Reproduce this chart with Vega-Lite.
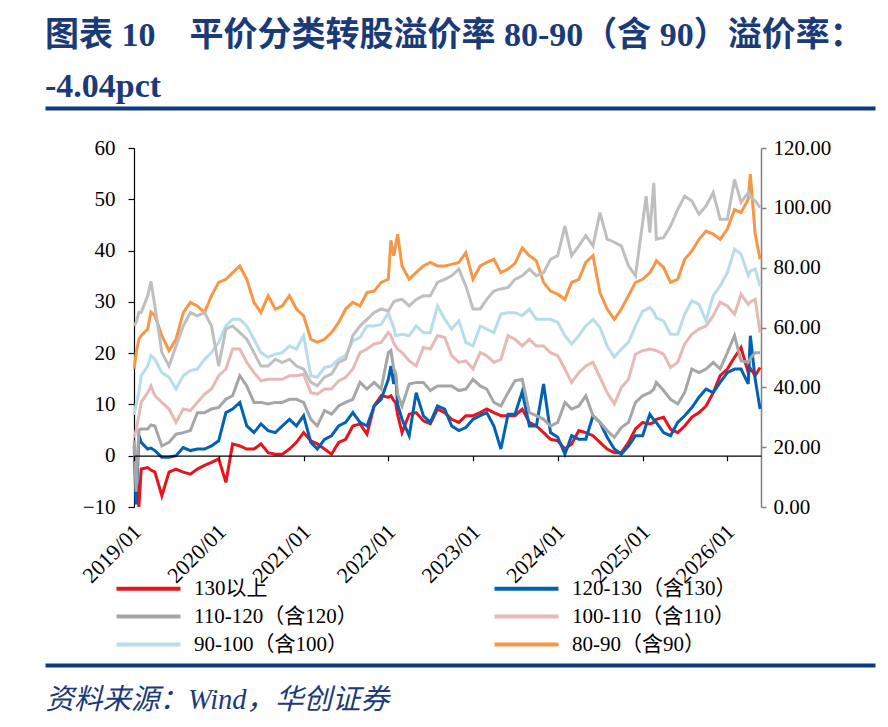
{
  "$schema": "https://vega.github.io/schema/vega-lite/v6.json",
  "background": "white",
  "padding": {"left": 42, "top": 19, "right": 0, "bottom": 0},
  "config": {
    "view": {"stroke": null},
    "font": "Liberation Serif, Noto Sans CJK SC",
    "axis": {"labelFont": "Liberation Serif, Noto Sans CJK SC", "titleFont": "Liberation Serif, Noto Sans CJK SC", "grid": false},
    "legend": {"labelFont": "Liberation Serif, Noto Sans CJK SC"}
  },
  "title": {
    "text": ["图表 10　平价分类转股溢价率 80-90（含 90）溢价率：", "-4.04pct"],
    "orient": "top",
    "anchor": "start",
    "frame": "group",
    "font": "Liberation Serif, Noto Sans CJK SC",
    "fontSize": 34,
    "fontWeight": "bold",
    "color": "#1b3a78",
    "lineHeight": 51,
    "offset": 2
  },
  "width": 830,
  "height": 561,
  "datasets": {
    "prem": [
      {"d":"2019-01-02","130以上":-1,"120-130（含130）":2,"110-120（含120）":3,"100-110（含110）":3.5,"90-100（含100）":8,"80-90（含90）":17,"r":60.5},
      {"d":"2019-01-10","130以上":-3,"120-130（含130）":-9.5,"110-120（含120）":-7,"100-110（含110）":5,"90-100（含100）":10,"80-90（含90）":20,"r":61.7},
      {"d":"2019-01-22","130以上":-10,"120-130（含130）":4,"110-120（含120）":5,"100-110（含110）":7.8,"90-100（含100）":12.3,"80-90（含90）":22.7,"r":65.0},
      {"d":"2019-02-01","130以上":-2.6,"120-130（含130）":2.6,"110-120（含120）":5.2,"100-110（含110）":10.4,"90-100（含100）":15.6,"80-90（含90）":23.4,"r":65.0},
      {"d":"2019-03-01","130以上":-2.3,"120-130（含130）":1.3,"110-120（含120）":5.2,"100-110（含110）":12.3,"90-100（含100）":17.5,"80-90（含90）":24.7,"r":70.6},
      {"d":"2019-03-15","130以上":-2.8,"120-130（含130）":1.5,"110-120（含120）":6,"100-110（含110）":13.6,"90-100（含100）":19.5,"80-90（含90）":28,"r":75.4},
      {"d":"2019-04-01","130以上":-3.2,"120-130（含130）":1,"110-120（含120）":5.8,"100-110（含110）":11.7,"90-100（含100）":18.8,"80-90（含90）":27.3,"r":67.2},
      {"d":"2019-05-01","130以上":-7.8,"120-130（含130）":-0.3,"110-120（含120）":1.9,"100-110（含110）":10.4,"90-100（含100）":16.2,"80-90（含90）":23.4,"r":51.6},
      {"d":"2019-06-01","130以上":-3.2,"120-130（含130）":-0.3,"110-120（含120）":2.6,"100-110（含110）":9.1,"90-100（含100）":15.3,"80-90（含90）":20.5,"r":47.1},
      {"d":"2019-07-01","130以上":-2.6,"120-130（含130）":0,"110-120（含120）":4.2,"100-110（含110）":6.5,"90-100（含100）":13,"80-90（含90）":22.7,"r":53.8},
      {"d":"2019-08-01","130以上":-3.2,"120-130（含130）":1.6,"110-120（含120）":4.5,"100-110（含110）":9.1,"90-100（含100）":15.6,"80-90（含90）":27.9,"r":60.5},
      {"d":"2019-09-01","130以上":-3.6,"120-130（含130）":1,"110-120（含120）":4.9,"100-110（含110）":8.8,"90-100（含100）":16.6,"80-90（含90）":29.9,"r":65.0},
      {"d":"2019-10-01","130以上":-2.6,"120-130（含130）":1.3,"110-120（含120）":8.4,"100-110（含110）":10.4,"90-100（含100）":16.9,"80-90（含90）":29.2,"r":63.9},
      {"d":"2019-11-01","130以上":-1.9,"120-130（含130）":1.3,"110-120（含120）":8.4,"100-110（含110）":12,"90-100（含100）":18.8,"80-90（含90）":27.9,"r":65.0},
      {"d":"2019-12-01","130以上":-1.3,"120-130（含130）":1.9,"110-120（含120）":9.1,"100-110（含110）":13,"90-100（含100）":20.1,"80-90（含90）":31.2,"r":60.5},
      {"d":"2020-01-01","130以上":-0.6,"120-130（含130）":2.9,"110-120（含120）":9.4,"100-110（含110）":15.6,"90-100（含100）":22.1,"80-90（含90）":33.8,"r":47.1},
      {"d":"2020-02-01","130以上":-5.2,"120-130（含130）":8.4,"110-120（含120）":11,"100-110（含110）":16.9,"90-100（含100）":25.3,"80-90（含90）":34.4,"r":59.5},
      {"d":"2020-03-01","130以上":2.3,"120-130（含130）":9.1,"110-120（含120）":11.7,"100-110（含110）":20.8,"90-100（含100）":26.6,"80-90（含90）":35.7,"r":60.5},
      {"d":"2020-04-01","130以上":1.9,"120-130（含130）":10.4,"110-120（含120）":15.6,"100-110（含110）":20.8,"90-100（含100）":26.6,"80-90（含90）":37,"r":58.3},
      {"d":"2020-05-01","130以上":1.3,"120-130（含130）":5.8,"110-120（含120）":13.6,"100-110（含110）":18.2,"90-100（含100）":25.3,"80-90（含90）":34.4,"r":56.1},
      {"d":"2020-06-01","130以上":1.3,"120-130（含130）":4.5,"110-120（含120）":10.4,"100-110（含110）":16.2,"90-100（含100）":22.7,"80-90（含90）":29.9,"r":51.6},
      {"d":"2020-07-01","130以上":2.3,"120-130（含130）":6.2,"110-120（含120）":10.4,"100-110（含110）":14.6,"90-100（含100）":20.1,"80-90（含90）":27.9,"r":47.1},
      {"d":"2020-08-01","130以上":0.6,"120-130（含130）":4.9,"110-120（含120）":10.1,"100-110（含110）":14.9,"90-100（含100）":19.2,"80-90（含90）":31.2,"r":47.1},
      {"d":"2020-09-01","130以上":0.3,"120-130（含130）":4.5,"110-120（含120）":10.4,"100-110（含110）":14.9,"90-100（含100）":19.8,"80-90（含90）":28.6,"r":49.4},
      {"d":"2020-10-01","130以上":0.3,"120-130（含130）":5.8,"110-120（含120）":10.4,"100-110（含110）":14.9,"90-100（含100）":20.1,"80-90（含90）":29.2,"r":48.3},
      {"d":"2020-11-01","130以上":1.3,"120-130（含130）":7.1,"110-120（含120）":11,"100-110（含110）":15.6,"90-100（含100）":21.4,"80-90（含90）":31.2,"r":49.4},
      {"d":"2020-12-01","130以上":2.6,"120-130（含130）":5.8,"110-120（含120）":11,"100-110（含110）":15.6,"90-100（含100）":20.8,"80-90（含90）":28.6,"r":47.1},
      {"d":"2021-01-01","130以上":4.5,"120-130（含130）":7.8,"110-120（含120）":10.4,"100-110（含110）":15.9,"90-100（含100）":23.4,"80-90（含90）":27.3,"r":46.1},
      {"d":"2021-02-01","130以上":2.9,"120-130（含130）":2.6,"110-120（含120）":7.1,"100-110（含110）":12.3,"90-100（含100）":15.6,"80-90（含90）":22.7,"r":41.7},
      {"d":"2021-03-01","130以上":2.3,"120-130（含130）":1.3,"110-120（含120）":5.8,"100-110（含110）":12,"90-100（含100）":15.3,"80-90（含90）":22.1,"r":40.5},
      {"d":"2021-04-01","130以上":1.3,"120-130（含130）":3.2,"110-120（含120）":8.8,"100-110（含110）":13,"90-100（含100）":17.2,"80-90（含90）":22.7,"r":43.4},
      {"d":"2021-05-01","130以上":0.3,"120-130（含130）":3.9,"110-120（含120）":8.1,"100-110（含110）":13,"90-100（含100）":17.5,"80-90（含90）":24,"r":44.4},
      {"d":"2021-06-01","130以上":2.6,"120-130（含130）":5.8,"110-120（含120）":9.7,"100-110（含110）":14.6,"90-100（含100）":18.8,"80-90（含90）":26,"r":48.3},
      {"d":"2021-07-01","130以上":3.2,"120-130（含130）":6.5,"110-120（含120）":10.4,"100-110（含110）":15.3,"90-100（含100）":19.5,"80-90（含90）":28.6,"r":49.4},
      {"d":"2021-08-01","130以上":5.8,"120-130（含130）":8.4,"110-120（含120）":11,"100-110（含110）":16.9,"90-100（含100）":22.4,"80-90（含90）":29.9,"r":57.3},
      {"d":"2021-09-01","130以上":6.2,"120-130（含130）":6.5,"110-120（含120）":14.3,"100-110（含110）":20.1,"90-100（含100）":23.1,"80-90（含90）":29.2,"r":60.5},
      {"d":"2021-10-01","130以上":4.2,"120-130（含130）":5.8,"110-120（含120）":13,"100-110（含110）":20.8,"90-100（含100）":25.3,"80-90（含90）":31.8,"r":62.7},
      {"d":"2021-11-01","130以上":9.7,"120-130（含130）":9.7,"110-120（含120）":14.3,"100-110（含110）":21.8,"90-100（含100）":25.3,"80-90（含90）":32.1,"r":65.0},
      {"d":"2021-12-01","130以上":11.7,"120-130（含130）":11,"110-120（含120）":13,"100-110（含110）":22.1,"90-100（含100）":25.6,"80-90（含90）":33.8,"r":66.2},
      {"d":"2022-01-01","130以上":11.4,"120-130（含130）":14.9,"110-120（含120）":20.1,"100-110（含110）":24,"90-100（含100）":27.9,"80-90（含90）":34.4,"r":65.5},
      {"d":"2022-01-12","130以上":11.7,"120-130（含130）":17.5,"110-120（含120）":20.5,"100-110（含110）":23.5,"90-100（含100）":26.5,"80-90（含90）":42,"r":66.9},
      {"d":"2022-01-24","130以上":10.8,"120-130（含130）":14,"110-120（含120）":17,"100-110（含110）":22,"90-100（含100）":25,"80-90（含90）":39,"r":68.6},
      {"d":"2022-02-01","130以上":10.4,"120-130（含130）":16.2,"110-120（含120）":16.2,"100-110（含110）":21.4,"90-100（含100）":23.4,"80-90（含90）":40.9,"r":68.9},
      {"d":"2022-02-10","130以上":8,"120-130（含130）":10,"110-120（含120）":12,"100-110（含110）":20.8,"90-100（含100）":23.5,"80-90（含90）":43.2,"r":69.1},
      {"d":"2022-03-01","130以上":4.5,"120-130（含130）":7.1,"110-120（含120）":9.7,"100-110（含110）":20.1,"90-100（含100）":23.7,"80-90（含90）":37,"r":69.4},
      {"d":"2022-04-01","130以上":8.1,"120-130（含130）":3.9,"110-120（含120）":14,"100-110（含110）":18.5,"90-100（含100）":23.4,"80-90（含90）":34.4,"r":67.2},
      {"d":"2022-05-01","130以上":8.4,"120-130（含130）":12.3,"110-120（含120）":14.3,"100-110（含110）":17.5,"90-100（含100）":25.3,"80-90（含90）":35.7,"r":69.4},
      {"d":"2022-06-01","130以上":6.8,"120-130（含130）":7.8,"110-120（含120）":14.3,"100-110（含110）":21.1,"90-100（含100）":24,"80-90（含90）":37,"r":70.6},
      {"d":"2022-07-01","130以上":6.2,"120-130（含130）":6.5,"110-120（含120）":12.7,"100-110（含110）":20.8,"90-100（含100）":24,"80-90（含90）":37.7,"r":70.6},
      {"d":"2022-08-01","130以上":9.1,"120-130（含130）":9.7,"110-120（含120）":13.6,"100-110（含110）":23.4,"90-100（含100）":29.2,"80-90（含90）":37,"r":75.1},
      {"d":"2022-09-01","130以上":8.4,"120-130（含130）":9.1,"110-120（含120）":13.6,"100-110（含110）":23.1,"90-100（含100）":26.6,"80-90（含90）":37,"r":76.1},
      {"d":"2022-10-01","130以上":7.1,"120-130（含130）":5.8,"110-120（含120）":13.6,"100-110（含110）":19.5,"90-100（含100）":24.7,"80-90（含90）":37.3,"r":77.3},
      {"d":"2022-11-01","130以上":6.5,"120-130（含130）":4.9,"110-120（含120）":12.7,"100-110（含110）":18.2,"90-100（含100）":26.3,"80-90（含90）":37.7,"r":79.5},
      {"d":"2022-12-01","130以上":7.8,"120-130（含130）":5.5,"110-120（含120）":13,"100-110（含110）":18.5,"90-100（含100）":22.1,"80-90（含90）":39.6,"r":73.9},
      {"d":"2023-01-01","130以上":7.8,"120-130（含130）":7.1,"110-120（含120）":14.9,"100-110（含110）":16.9,"90-100（含100）":21.4,"80-90（含90）":34.4,"r":66.2},
      {"d":"2023-02-01","130以上":8.4,"120-130（含130）":7.8,"110-120（含120）":13.6,"100-110（含110）":20.1,"90-100（含100）":25.3,"80-90（含90）":37,"r":66.2},
      {"d":"2023-03-01","130以上":9.1,"120-130（含130）":8.4,"110-120（含120）":13,"100-110（含110）":19.5,"90-100（含100）":24.7,"80-90（含90）":37.7,"r":69.4},
      {"d":"2023-04-01","130以上":8.4,"120-130（含130）":5.8,"110-120（含120）":10.4,"100-110（含110）":18.2,"90-100（含100）":24,"80-90（含90）":38.3,"r":72.2},
      {"d":"2023-05-01","130以上":7.8,"120-130（含130）":1.3,"110-120（含120）":9.7,"100-110（含110）":18.8,"90-100（含100）":27.6,"80-90（含90）":35.7,"r":72.9},
      {"d":"2023-06-01","130以上":7.8,"120-130（含130）":8.1,"110-120（含120）":12.3,"100-110（含110）":23.4,"90-100（含100）":27.9,"80-90（含90）":36.4,"r":73.4},
      {"d":"2023-07-01","130以上":7.8,"120-130（含130）":8.1,"110-120（含120）":14.6,"100-110（含110）":22.7,"90-100（含100）":27.9,"80-90（含90）":37.5,"r":76.1},
      {"d":"2023-08-01","130以上":9.1,"120-130（含130）":12.5,"110-120（含120）":14.9,"100-110（含110）":21.4,"90-100（含100）":27.3,"80-90（含90）":40.5,"r":77.3},
      {"d":"2023-09-01","130以上":6.5,"120-130（含130）":5.8,"110-120（含120）":8.4,"100-110（含110）":22.7,"90-100（含100）":28.6,"80-90（含90）":39,"r":79.5},
      {"d":"2023-10-01","130以上":5.8,"120-130（含130）":5.8,"110-120（含120）":7.8,"100-110（含110）":21.4,"90-100（含100）":26.6,"80-90（含90）":38,"r":77.3},
      {"d":"2023-11-01","130以上":4.5,"120-130（含130）":14,"110-120（含120）":7.1,"100-110（含110）":21.4,"90-100（含100）":26.6,"80-90（含90）":33.8,"r":78.3},
      {"d":"2023-12-01","130以上":3.2,"120-130（含130）":4.5,"110-120（含120）":5.8,"100-110（含110）":20.1,"90-100（含100）":26.6,"80-90（含90）":32.1,"r":82.8},
      {"d":"2024-01-01","130以上":2.9,"120-130（含130）":3.6,"110-120（含120）":6.5,"100-110（含110）":19.5,"90-100（含100）":26,"80-90（含90）":31.5,"r":84.0},
      {"d":"2024-02-01","130以上":1.3,"120-130（含130）":0.3,"110-120（含120）":10.4,"100-110（含110）":16.9,"90-100（含100）":23.4,"80-90（含90）":30.5,"r":93.9},
      {"d":"2024-03-01","130以上":2.3,"120-130（含130）":3.9,"110-120（含120）":9.1,"100-110（含110）":14.3,"90-100（含100）":21.8,"80-90（含90）":33.8,"r":84.0},
      {"d":"2024-04-01","130以上":4.9,"120-130（含130）":3.2,"110-120（含120）":9.7,"100-110（含110）":16.2,"90-100（含100）":23.4,"80-90（含90）":34.4,"r":87.3},
      {"d":"2024-05-01","130以上":4.5,"120-130（含130）":3.2,"110-120（含120）":11.7,"100-110（含110）":17.5,"90-100（含100）":25.3,"80-90（含90）":37.7,"r":90.7},
      {"d":"2024-06-01","130以上":3.9,"120-130（含130）":7.8,"110-120（含120）":7.8,"100-110（含110）":18.2,"90-100（含100）":26.6,"80-90（含90）":39,"r":87.3},
      {"d":"2024-07-01","130以上":2.6,"120-130（含130）":6.5,"110-120（含120）":6.5,"100-110（含110）":15.3,"90-100（含100）":25,"80-90（含90）":31.8,"r":98.4},
      {"d":"2024-08-01","130以上":1.3,"120-130（含130）":3.6,"110-120（含120）":4.9,"100-110（含110）":12.3,"90-100（含100）":21.4,"80-90（含90）":28.6,"r":89.5},
      {"d":"2024-09-01","130以上":0.6,"120-130（含130）":1.3,"110-120（含120）":3.6,"100-110（含110）":10.1,"90-100（含100）":19.2,"80-90（含90）":26.6,"r":88.5},
      {"d":"2024-10-01","130以上":0.6,"120-130（含130）":0.3,"110-120（含120）":5.5,"100-110（含110）":13.3,"90-100（含100）":20.8,"80-90（含90）":28.6,"r":87.3},
      {"d":"2024-11-01","130以上":2.6,"120-130（含130）":1.9,"110-120（含120）":6.5,"100-110（含110）":14.9,"90-100（含100）":22.1,"80-90（含90）":31.2,"r":80.6},
      {"d":"2024-12-01","130以上":5.2,"120-130（含130）":3.9,"110-120（含120）":10.4,"100-110（含110）":19.8,"90-100（含100）":25.3,"80-90（含90）":33.8,"r":77.3},
      {"d":"2025-01-01","130以上":6.5,"120-130（含130）":3.9,"110-120（含120）":11.7,"100-110（含110）":20.5,"90-100（含100）":28.2,"80-90（含90）":34.4,"r":95.1},
      {"d":"2025-01-16","130以上":6.3,"120-130（含130）":6,"110-120（含120）":12,"100-110（含110）":20.6,"90-100（含100）":28.5,"80-90（含90）":35,"r":103.9},
      {"d":"2025-02-01","130以上":6.2,"120-130（含130）":8.1,"110-120（含120）":12.3,"100-110（含110）":20.8,"90-100（含100）":28.9,"80-90（含90）":35.7,"r":91.7},
      {"d":"2025-02-18","130以上":6.5,"120-130（含130）":7,"110-120（含120）":13,"100-110（含110）":20.6,"90-100（含100）":28,"80-90（含90）":37,"r":108.4},
      {"d":"2025-03-01","130以上":7.1,"120-130（含130）":6.5,"110-120（含120）":14.3,"100-110（含110）":20.5,"90-100（含100）":26.9,"80-90（含90）":38,"r":89.5},
      {"d":"2025-04-01","130以上":7.5,"120-130（含130）":4.5,"110-120（含120）":12.7,"100-110（含110）":19.8,"90-100（含100）":26.3,"80-90（含90）":36.7,"r":90.0},
      {"d":"2025-05-01","130以上":5.2,"120-130（含130）":3.9,"110-120（含120）":11,"100-110（含110）":17.2,"90-100（含100）":23.7,"80-90（含90）":33.8,"r":93.9},
      {"d":"2025-06-01","130以上":4.5,"120-130（含130）":6.5,"110-120（含120）":10.1,"100-110（含110）":18.2,"90-100（含100）":23.7,"80-90（含90）":34.4,"r":99.4},
      {"d":"2025-07-01","130以上":5.8,"120-130（含130）":7.8,"110-120（含120）":12.3,"100-110（含110）":21.8,"90-100（含100）":27.6,"80-90（含90）":38.3,"r":103.9},
      {"d":"2025-08-01","130以上":7.5,"120-130（含130）":9.4,"110-120（含120）":16.9,"100-110（含110）":23.7,"90-100（含100）":30.2,"80-90（含90）":39.9,"r":102.3},
      {"d":"2025-09-01","130以上":8.4,"120-130（含130）":11.4,"110-120（含120）":16.2,"100-110（含110）":24.7,"90-100（含100）":29.5,"80-90（含90）":42.2,"r":97.9},
      {"d":"2025-10-01","130以上":9.7,"120-130（含130）":13,"110-120（含120）":16.9,"100-110（含110）":25.3,"90-100（含100）":26.3,"80-90（含90）":43.8,"r":100.6},
      {"d":"2025-11-01","130以上":12.3,"120-130（含130）":12.3,"110-120（含120）":18.2,"100-110（含110）":27.3,"90-100（含100）":31.2,"80-90（含90）":43.2,"r":105.1},
      {"d":"2025-12-01","130以上":15.6,"120-130（含130）":14.3,"110-120（含120）":16.9,"100-110（含110）":29.9,"90-100（含100）":33.1,"80-90（含90）":42.2,"r":96.2},
      {"d":"2026-01-01","130以上":16.9,"120-130（含130）":16.2,"110-120（含120）":20.1,"100-110（含110）":29.2,"90-100（含100）":35.7,"80-90（含90）":44.2,"r":96.2},
      {"d":"2026-02-01","130以上":19.2,"120-130（含130）":16.9,"110-120（含120）":23.4,"100-110（含110）":27.6,"90-100（含100）":40.3,"80-90（含90）":48,"r":109.5},
      {"d":"2026-03-01","130以上":21.1,"120-130（含130）":16.9,"110-120（含120）":18.5,"100-110（含110）":31.5,"90-100（含100）":39.3,"80-90（含90）":47.4,"r":101.8},
      {"d":"2026-04-01","130以上":16.2,"120-130（含130）":14,"110-120（含120）":18.2,"100-110（含110）":29.5,"90-100（含100）":35.1,"80-90（含90）":50,"r":105.1},
      {"d":"2026-04-10","130以上":17,"120-130（含130）":23.4,"110-120（含120）":19,"100-110（含110）":30,"90-100（含100）":36,"80-90（含90）":54.9,"r":103.7},
      {"d":"2026-05-01","130以上":15.6,"120-130（含130）":14.9,"110-120（含120）":20.1,"100-110（含110）":30.5,"90-100（含100）":36.4,"80-90（含90）":43.2,"r":102.3},
      {"d":"2026-05-22","130以上":17.2,"120-130（含130）":9.1,"110-120（含120）":20.1,"100-110（含110）":24,"90-100（含100）":33.1,"80-90（含90）":38.3,"r":100.1}
    ]
  },
  "data": {"name": "prem"},
  "layer": [
    {
      "transform": [
        {"fold": ["130以上", "120-130（含130）", "110-120（含120）", "100-110（含110）", "90-100（含100）", "80-90（含90）"], "as": ["series", "value"]}
      ],
      "mark": {"type": "line", "strokeWidth": 3},
      "encoding": {
        "x": {
          "field": "d",
          "type": "temporal",
          "scale": {"domain": [{"year": 2019, "month": 1, "date": 1}, {"year": 2026, "month": 5, "date": 26}], "range": [89, 716], "nice": false},
          "axis": {
            "orient": "bottom",
            "offset": -211.3,
            "title": null,
            "format": "%Y/%m",
            "tickCount": {"interval": "year", "step": 1},
            "domainColor": "black",
            "domainWidth": 1.2,
            "tickColor": "black",
            "tickWidth": 1.2,
            "tickSize": 5,
            "labelAngle": -45,
            "labelAlign": "right",
            "labelBaseline": "top",
            "labelPadding": 60,
            "labelOffset": -4,
            "labelFontSize": 22,
            "labelColor": "black",
            "labelOverlap": false,
            "labelFlush": false,
            "zindex": 1
          }
        },
        "y": {
          "field": "value",
          "type": "quantitative",
          "scale": {"domain": [-10, 60], "range": [401, 42], "nice": false},
          "axis": {
            "orient": "left",
            "offset": -89,
            "title": null,
            "values": [-10, 0, 10, 20, 30, 40, 50, 60],
            "domainColor": "black",
            "domainWidth": 1.2,
            "tickColor": "black",
            "tickWidth": 1.2,
            "tickSize": 6,
            "labelPadding": 13,
            "labelFontSize": 21,
            "labelColor": "black"
          }
        },
        "color": {
          "field": "series",
          "type": "nominal",
          "scale": {
            "domain": ["130以上", "120-130（含130）", "110-120（含120）", "100-110（含110）", "90-100（含100）", "80-90（含90）"],
            "range": ["#e8141c", "#0061b5", "#a6a6a6", "#e6b9b8", "#b7dee8", "#f79646"]
          },
          "legend": {
            "orient": "none",
            "direction": "horizontal",
            "legendX": 93,
            "legendY": 472,
            "columns": 2,
            "title": null,
            "padding": 0,
            "symbolType": "M-4,0H4",
            "symbolSize": 256,
            "symbolStrokeWidth": 4,
            "labelFontSize": 21,
            "labelColor": "black",
            "labelOffset": 35,
            "labelLimit": 300,
            "columnPadding": 128,
            "rowPadding": 6
          }
        }
      }
    },
    {
      "mark": {"type": "line", "strokeWidth": 3, "color": "#bfbfbf"},
      "encoding": {
        "x": {
          "field": "d",
          "type": "temporal",
          "scale": {"domain": [{"year": 2019, "month": 1, "date": 1}, {"year": 2026, "month": 5, "date": 26}], "range": [89, 716], "nice": false},
          "axis": null
        },
        "y": {
          "field": "r",
          "type": "quantitative",
          "scale": {"domain": [0, 120], "range": [401, 42], "nice": false},
          "axis": {
            "orient": "right",
            "offset": -114,
            "title": null,
            "values": [0, 20, 40, 60, 80, 100, 120],
            "format": ".2f",
            "domainColor": "#808080",
            "domainWidth": 1.5,
            "tickColor": "#808080",
            "tickWidth": 1.5,
            "tickSize": 5,
            "labelPadding": 7,
            "labelFontSize": 21,
            "labelColor": "black"
          }
        }
      }
    },
    {
      "mark": {"type": "point", "opacity": 0},
      "encoding": {
        "x": {
          "field": "d",
          "type": "temporal",
          "axis": {"orient": "top", "offset": -2, "title": null, "ticks": false, "labels": false, "domainColor": "#0d3b7d", "domainWidth": 4, "domainCap": "butt"}
        }
      }
    },
    {
      "mark": {"type": "point", "opacity": 0},
      "encoding": {
        "x": {
          "field": "d",
          "type": "temporal",
          "axis": {
            "orient": "bottom",
            "offset": -2,
            "ticks": false,
            "labels": false,
            "domainColor": "#0d3b7d",
            "domainWidth": 4,
            "domainCap": "butt",
            "title": "资料来源：Wind，华创证券",
            "titleFontSize": 28.5,
            "titleFontStyle": "italic",
            "titleFontWeight": "normal",
            "titleColor": "#1b3a78",
            "titleAnchor": "start",
            "titleAlign": "left",
            "titleBaseline": "top",
            "titlePadding": 20
          }
        }
      }
    }
  ],
  "resolve": {
    "scale": {"x": "independent", "y": "independent"},
    "axis": {"x": "independent", "y": "independent"}
  }
}
